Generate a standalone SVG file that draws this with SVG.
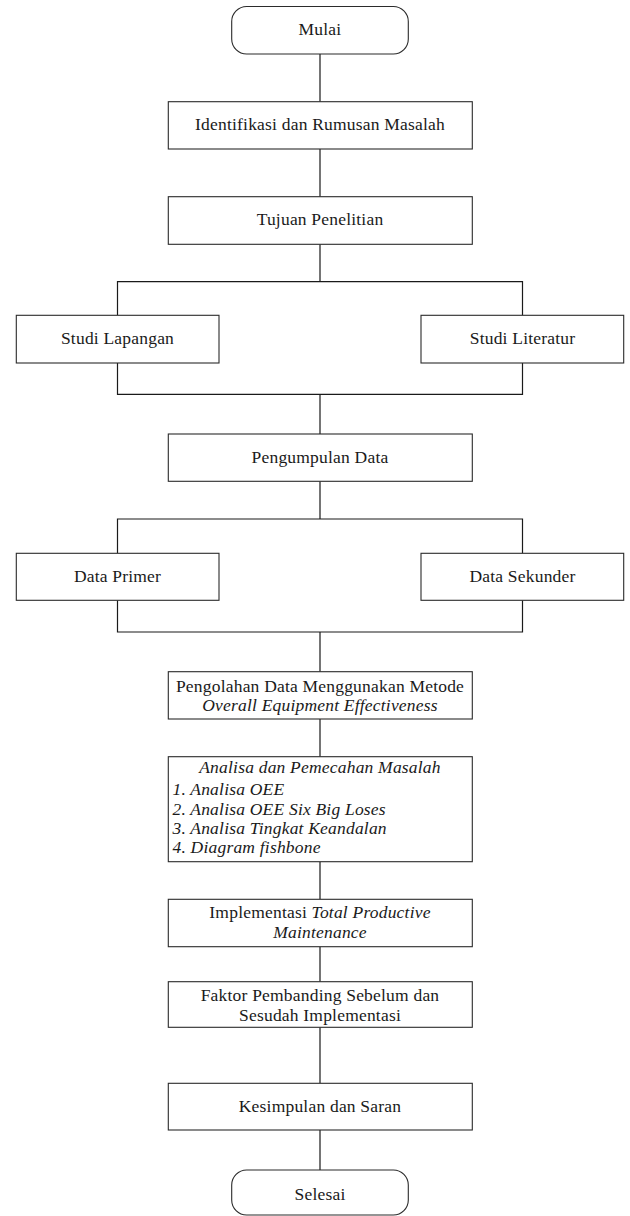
<svg xmlns="http://www.w3.org/2000/svg" width="630" height="1216" viewBox="0 0 630 1216">
<style>
.box{fill:#fff;stroke:#2b2b2b;stroke-width:1.1}
.ln{fill:none;stroke:#1a1a1a;stroke-width:1.2}
text{font-family:"Liberation Serif","Times New Roman","DejaVu Serif",serif;font-size:17.5px;fill:#1a1a1a;letter-spacing:0.2px}
.c{text-anchor:middle}
.i{font-style:italic}
</style>
<rect width="630" height="1216" fill="#fff"/>
<g id="connectors">
<path class="ln" d="M320,54V101.7 M320,149V196.7 M320,244.3V281.7 M117.5,315.3V281.7H522.5V315.3 M117.5,363V394.3H522.5V363 M320,394.3V434 M320,481.3V519 M117.5,553.3V519H522.5V553.3 M117.5,600.3V632H522.5V600.3 M320,632V671.7 M320,719V756.7 M320,861.7V899.3 M320,946.7V981.7 M320,1027.3V1083.3 M320,1130V1170"/>
</g>
<g id="mulai">
<rect class="box" x="231.7" y="6.5" width="176.6" height="47.5" rx="15" ry="15"/>
<text class="c" x="320" y="35">Mulai</text>
</g>
<g id="identifikasi">
<rect class="box" x="168.3" y="101.7" width="304" height="47.3"/>
<text class="c" x="320" y="130">Identifikasi dan Rumusan Masalah</text>
</g>
<g id="tujuan">
<rect class="box" x="168.3" y="196.7" width="304" height="47.6"/>
<text class="c" x="320" y="225">Tujuan Penelitian</text>
</g>
<g id="studi-lapangan">
<rect class="box" x="16.3" y="315.3" width="202.7" height="47.7"/>
<text class="c" x="117.5" y="344">Studi Lapangan</text>
</g>
<g id="studi-literatur">
<rect class="box" x="421" y="315.3" width="202.7" height="47.7"/>
<text class="c" x="522.5" y="344">Studi Literatur</text>
</g>
<g id="pengumpulan">
<rect class="box" x="168.3" y="434" width="304" height="47.3"/>
<text class="c" x="320" y="462.7">Pengumpulan Data</text>
</g>
<g id="data-primer">
<rect class="box" x="16.3" y="553.3" width="202.7" height="47"/>
<text class="c" x="117.5" y="582">Data Primer</text>
</g>
<g id="data-sekunder">
<rect class="box" x="421" y="553.3" width="202.7" height="47"/>
<text class="c" x="522.5" y="582">Data Sekunder</text>
</g>
<g id="pengolahan">
<rect class="box" x="168.3" y="671.7" width="304" height="47.3"/>
<text class="c" x="320" y="691.7">Pengolahan Data Menggunakan Metode</text>
<text class="c i" x="320" y="711">Overall Equipment Effectiveness</text>
</g>
<g id="analisa">
<rect class="box" x="168.3" y="756.7" width="304" height="105"/>
<text class="c i" x="320" y="773">Analisa dan Pemecahan Masalah</text>
<text class="i" x="172.5" y="795">1. Analisa OEE</text>
<text class="i" x="172.5" y="814.5">2. Analisa OEE Six Big Loses</text>
<text class="i" x="172.5" y="834">3. Analisa Tingkat Keandalan</text>
<text class="i" x="172.5" y="853">4. Diagram fishbone</text>
</g>
<g id="implementasi">
<rect class="box" x="168.3" y="899.3" width="304" height="47.4"/>
<text class="c" x="320" y="918.3">Implementasi <tspan class="i">Total Productive</tspan></text>
<text class="c i" x="320" y="938.3">Maintenance</text>
</g>
<g id="faktor">
<rect class="box" x="168.3" y="981.7" width="304" height="45.6"/>
<text class="c" x="320" y="1000.7">Faktor Pembanding Sebelum dan</text>
<text class="c" x="320" y="1020.7">Sesudah Implementasi</text>
</g>
<g id="kesimpulan">
<rect class="box" x="168.3" y="1083.3" width="304" height="46.7"/>
<text class="c" x="320" y="1111.7">Kesimpulan dan Saran</text>
</g>
<g id="selesai">
<rect class="box" x="231.7" y="1170" width="176.6" height="45" rx="15" ry="15"/>
<text class="c" x="320" y="1200">Selesai</text>
</g>
</svg>
